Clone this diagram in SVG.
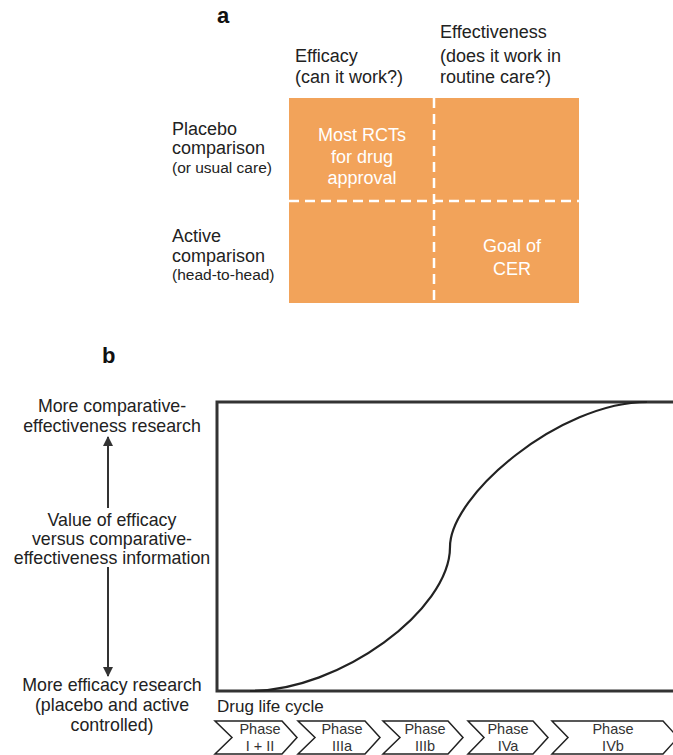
<svg xmlns="http://www.w3.org/2000/svg" width="673" height="755" viewBox="0 0 673 755">
<style>
text{font-family:"Liberation Sans",Arial,sans-serif;fill:#222}
.l{font-size:18px}
.s{font-size:15.5px}
.w{font-size:18px;fill:#fff;text-anchor:middle}
.b{font-size:17.8px;text-anchor:middle}
.h{font-size:22px;font-weight:bold;fill:#111}
.p{font-size:14.5px;text-anchor:middle;fill:#333}
.dash{stroke:#fff;stroke-width:2.5;stroke-dasharray:10 6;fill:none}
.chev{fill:#fff;stroke:#222;stroke-width:1.5;stroke-linejoin:miter}
</style>
<defs>
<marker id="ah" viewBox="0 0 10 10" refX="9" refY="5" markerWidth="5" markerHeight="5" orient="auto" markerUnits="strokeWidth">
<path d="M0,0 L10,5 L0,10 Z" fill="#333"/>
</marker>
</defs>
<rect width="673" height="755" fill="#fff"/>
<g id="panel-a">
<text class="h" x="217" y="23">a</text>
<g id="col-efficacy"><text class="l" x="295" y="62">Efficacy</text><text class="l" x="295" y="83">(can it work?)</text></g>
<g id="col-effectiveness"><text class="l" x="440" y="38">Effectiveness</text><text class="l" x="440" y="62">(does it work in</text><text class="l" x="440" y="83">routine care?)</text></g>
<g id="row-placebo"><text class="l" x="172" y="135">Placebo</text><text class="l" x="172" y="154">comparison</text><text class="s" x="172" y="173">(or usual care)</text></g>
<g id="row-active"><text class="l" x="172" y="242">Active</text><text class="l" x="172" y="262">comparison</text><text class="s" x="172" y="280">(head-to-head)</text></g>
<g id="grid">
<rect x="289" y="98" width="290" height="205" fill="#F2A35A"/>
<line class="dash" x1="434" y1="98" x2="434" y2="303"/>
<line class="dash" x1="289" y1="201" x2="579" y2="201"/>
</g>
<g id="cell-rcts"><text class="w" x="362" y="141">Most RCTs</text><text class="w" x="362" y="163">for drug</text><text class="w" x="362" y="184">approval</text></g>
<g id="cell-cer"><text class="w" x="512" y="252">Goal of</text><text class="w" x="512" y="275">CER</text></g>
</g>
<g id="panel-b">
<text class="h" x="102" y="363">b</text>
<g id="label-top"><text class="b" x="112" y="412">More comparative-</text><text class="b" x="112" y="432">effectiveness research</text></g>
<g id="label-mid"><text class="b" x="112" y="526">Value of efficacy</text><text class="b" x="112" y="545">versus comparative-</text><text class="b" x="112" y="564">effectiveness information</text></g>
<g id="label-bottom"><text class="b" x="112" y="691">More efficacy research</text><text class="b" x="112" y="711">(placebo and active</text><text class="b" x="112" y="731">controlled)</text></g>
<g id="connectors" stroke="#333" stroke-width="2" fill="none">
<line x1="108" y1="508" x2="108" y2="437" marker-end="url(#ah)"/>
<line x1="108" y1="567" x2="108" y2="676" marker-end="url(#ah)"/>
</g>
<g id="chart">
<rect x="217" y="402" width="470" height="289" fill="none" stroke="#333" stroke-width="3"/>
<path d="M250,691 C340,691 450,610 450,547 C450,495 560,402 647,402" fill="none" stroke="#222" stroke-width="2.2"/>
</g>
<text class="l" x="217" y="712" style="font-size:17px">Drug life cycle</text>
<g id="phase1"><path class="chev" d="M215,721 L282,721 L297,737.5 L282,754 L215,754 L232,737.5 Z"/><text class="p" x="260" y="734">Phase</text><text class="p" x="260" y="751">I + II</text></g>
<g id="phase2"><path class="chev" d="M298,721 L365,721 L380,737.5 L365,754 L298,754 L315,737.5 Z"/><text class="p" x="342" y="734">Phase</text><text class="p" x="342" y="751">IIIa</text></g>
<g id="phase3"><path class="chev" d="M383,721 L448,721 L463,737.5 L448,754 L383,754 L400,737.5 Z"/><text class="p" x="425" y="734">Phase</text><text class="p" x="425" y="751">IIIb</text></g>
<g id="phase4"><path class="chev" d="M468,721 L533,721 L548,737.5 L533,754 L468,754 L484,737.5 Z"/><text class="p" x="508" y="734">Phase</text><text class="p" x="508" y="751">IVa</text></g>
<g id="phase5"><path class="chev" d="M552,721 L663,721 L678,737.5 L663,754 L552,754 L568,737.5 Z"/><text class="p" x="613" y="734">Phase</text><text class="p" x="613" y="751">IVb</text></g>
</g>
</svg>
